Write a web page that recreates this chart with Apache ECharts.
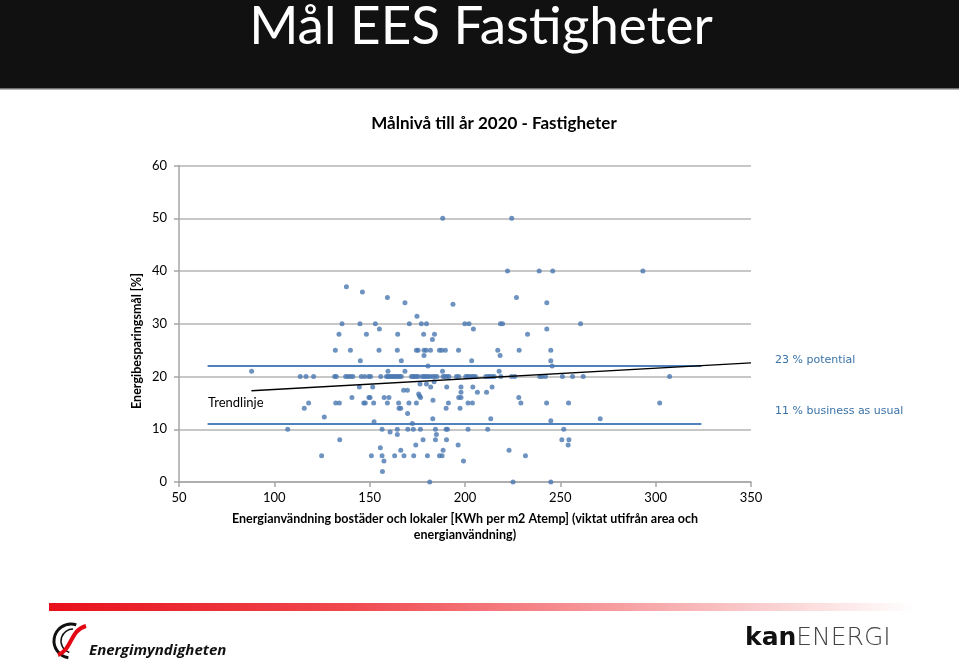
<!DOCTYPE html>
<html>
<head>
<meta charset="utf-8">
<script src="https://cdn.jsdelivr.net/npm/echarts@6/dist/echarts.min.js"></script>
<style>
html, body { margin: 0; padding: 0; background: #fff; }
#main { width: 959px; height: 663px; }
</style>
</head>
<body>
<div id="main"></div>
<script>
// energy use (kWh per m2 Atemp) and savings goal (%) per building
var energy = [
    188.3, 224.5,
    222.3, 238.9, 246, 293.3,
    137.8, 146.2, 159.3, 227, 168.5, 242.9, 193.7, 174.8,
    135.5, 144.9, 153, 170.8, 177.1, 179.8, 199.9, 202.1, 218.6, 219.7, 260.6,
    155.1, 204.4, 242.9,
    133.9, 148.3, 164.7, 178.3, 184, 232.8, 182.9,
    132, 139.9, 154.9, 164.5, 174.5, 175.4, 178.5, 179.6, 181.9, 186.6, 187.8, 189.7, 196.6, 217.2, 228.4, 245,
    178.5, 218.4,
    145.1, 166.6, 203.5, 245,
    180.6, 245.7,
    88.1, 159.6, 168.5, 188.2, 217.9,
    113.6, 116.6, 120.6, 131.6, 132.5, 137.4, 138.6, 139.9, 141.2, 145.6, 147.4, 149.5, 150.5, 155.8,
    158.8, 159.6, 160.5, 161.4, 162.2, 163.1, 164, 164.9, 165.7, 166.6, 171.9, 172.7, 173.6, 174.5,
    175.4, 177.5, 178.5, 179.4, 180.3, 181.5, 182.9, 184.1, 185.3, 188.5, 189.5, 190.6, 191.6, 195.5,
    196.7, 200.4, 201.3, 202.1, 203.4, 204.4, 205.5, 210.9, 212.1, 213, 214.2, 215.3, 218.8, 224.4,
    226.1, 239.2, 240.4, 242.2, 251.1, 256.4, 262, 307.3,
    183.8, 176.4, 179.8,
    144.6, 151.6, 182, 190.4, 197.9, 204.1, 214.2,
    167.8, 169.8, 197.9, 206.5, 211.3, 175.7, 176.2,
    140.7, 149.6, 150.2, 157.6, 160.1, 176.7, 196.7, 197.9, 228.2, 183.2,
    118, 132.2, 134.1, 146.9, 147.7, 152.1, 159.3, 165.2, 170.6, 174.5, 191.3, 201.6, 203.9, 229.3, 242.8, 254.3, 302.1,
    115.7, 165.4, 166.3, 190.1, 197.4, 169.9, 126.2,
    183.1, 213.5, 270.9, 245, 152.3, 172.4,
    107, 156.5, 164.5, 170, 172.9, 176.6, 184.5, 190.1, 190.8, 201.6, 211.9, 251.8,
    160.7, 164.5, 185,
    134.3, 178, 184.5, 190.3, 250.8, 254.5,
    174.2, 196.4, 254.1, 155.6,
    166.3, 188.5, 223.1,
    124.8, 150.9, 156.5, 163.1, 168, 173.1, 180.3, 186.6, 188, 231.7,
    157.5, 199.2, 156.7,
    181.5, 225.2, 245
];
var saving = [
    50, 50,
    40, 40, 40, 40,
    37, 36, 35, 35, 34, 34, 33.7, 31.4,
    30, 30, 30, 30, 30, 30, 30, 30, 30, 30, 30,
    29, 29, 29,
    28, 28, 28, 28, 28, 28, 27,
    25, 25, 25, 25, 25, 25, 25, 25, 25, 25, 25, 25, 25, 25, 25, 25,
    24, 24,
    23, 23, 23, 23,
    22, 22,
    21, 21, 21, 21, 21,
    20, 20, 20, 20, 20, 20, 20, 20, 20, 20, 20, 20, 20, 20,
    20, 20, 20, 20, 20, 20, 20, 20, 20, 20, 20, 20, 20, 20,
    20, 20, 20, 20, 20, 20, 20, 20, 20, 20, 20, 20, 20, 20,
    20, 20, 20, 20, 20, 20, 20, 20, 20, 20, 20, 20, 20, 20,
    20, 20, 20, 20, 20, 20, 20, 20,
    19, 18.6, 18.6,
    18, 18, 18, 18, 18, 18, 18,
    17.4, 17.4, 17, 17, 17, 16.7, 16.3,
    16, 16, 16, 16, 16, 16, 16, 16, 16, 15.5,
    15, 15, 15, 15, 15, 15, 15, 15, 15, 15, 15, 15, 15, 15, 15, 15, 15,
    14, 14, 14, 14, 14, 13, 12.3,
    12, 12, 12, 11.6, 11.4, 11.1,
    10, 10, 10, 10, 10, 10, 10, 10, 10, 10, 10, 10,
    9.5, 9, 9,
    8, 8, 8, 8, 8, 8,
    7, 7, 7, 6.5,
    6, 6, 6,
    5, 5, 5, 5, 5, 5, 5, 5, 5, 5,
    4, 4, 2,
    0, 0, 0
];

// goal lines and trend line
var potentialLine = [[65, 22], [324, 22]];
var usualLine = [[65, 11], [324, 11]];
var trendLine = [[88, 17.3], [350, 22.6]];

var xTicks = [50, 350, 50];   // min, max, step
var yTicks = [0, 60, 10];

var points = [];
for (var i = 0; i < energy.length; i++) {
    points.push([energy[i], saving[i]]);
}

var chart = echarts.init(document.getElementById('main'));
var calibri = 'Lato, "Open Sans", sans-serif';

var option = {
    backgroundColor: '#ffffff',
    animation: false,
    grid: {
        left: 179,
        right: 208,
        top: 165.5,
        bottom: 181
    },
    xAxis: {
        type: 'value',
        min: xTicks[0],
        max: xTicks[1],
        interval: xTicks[2],
        axisLine: { show: true, onZero: false, lineStyle: { color: '#a6a6a6', width: 1.5 } },
        axisTick: { show: true, length: 5, lineStyle: { color: '#a6a6a6', width: 1.5 } },
        axisLabel: { color: '#000', fontSize: 13, fontFamily: calibri, margin: 9 },
        splitLine: { show: false }
    },
    yAxis: {
        type: 'value',
        min: yTicks[0],
        max: yTicks[1],
        interval: yTicks[2],
        axisLine: { show: true, lineStyle: { color: '#a6a6a6', width: 1.5 } },
        axisTick: { show: true, length: 5, lineStyle: { color: '#a6a6a6', width: 1.5 } },
        axisLabel: { color: '#000', fontSize: 13, fontFamily: calibri, margin: 12 },
        splitLine: { show: true, lineStyle: { color: '#b4b4b4', width: 1.5 } }
    },
    series: [
        {
            type: 'line',
            data: potentialLine,
            symbol: 'none',
            lineStyle: { color: '#4f81bd', width: 2 },
            z: 2
        },
        {
            type: 'line',
            data: usualLine,
            symbol: 'none',
            lineStyle: { color: '#4f81bd', width: 2 },
            z: 2
        },
        {
            type: 'scatter',
            data: points,
            symbolSize: 5,
            itemStyle: { color: '#4a78b0' },
            z: 3
        },
        {
            type: 'line',
            data: trendLine,
            symbol: 'none',
            lineStyle: { color: '#000', width: 1.3 },
            z: 4
        }
    ],
    graphic: [
        { type: 'rect', left: 0, top: 0, shape: { width: 959, height: 89 }, style: { fill: '#111111' } },
        { type: 'rect', left: 0, top: 88, shape: { width: 959, height: 1.5 }, style: { fill: '#6e6e6e' } },
        {
            type: 'text', x: 481, y: 27,
            style: { text: 'Mål EES Fastigheter', fill: '#fff', font: '53px ' + calibri, textAlign: 'center', textVerticalAlign: 'middle' }
        },
        {
            type: 'text', x: 494, y: 124,
            style: { text: 'Målnivå till år 2020 - Fastigheter', fill: '#000', font: 'bold 17px ' + calibri, textAlign: 'center', textVerticalAlign: 'middle' }
        },
        {
            type: 'text', x: 137, y: 341, rotation: Math.PI / 2,
            style: { text: 'Energibesparingsmål [%]', fill: '#000', font: 'bold 12.5px ' + calibri, textAlign: 'center', textVerticalAlign: 'middle' }
        },
        {
            type: 'text', x: 465, y: 527,
            style: {
                text: 'Energianvändning bostäder och lokaler [KWh per m2 Atemp] (viktat utifrån area och\nenergianvändning)',
                fill: '#000', font: 'bold 12.5px ' + calibri, textAlign: 'center', textVerticalAlign: 'middle', lineHeight: 16
            }
        },
        {
            type: 'text', x: 208, y: 403,
            style: { text: 'Trendlinje', fill: '#000', font: '13px ' + calibri, textVerticalAlign: 'middle' }
        },
        {
            type: 'text', x: 775, y: 360,
            style: { text: '23 % potential', fill: '#3a73a8', font: '11px "DejaVu Sans"', textVerticalAlign: 'middle' }
        },
        {
            type: 'text', x: 775, y: 411,
            style: { text: '11 % business as usual', fill: '#3a73a8', font: '11px "DejaVu Sans"', textVerticalAlign: 'middle' }
        },
        {
            type: 'rect', left: 49, top: 603, shape: { width: 866, height: 8 },
            style: {
                fill: new echarts.graphic.LinearGradient(0, 0, 1, 0, [
                    { offset: 0, color: '#e8101a' },
                    { offset: 0.35, color: '#f04a4f' },
                    { offset: 0.7, color: '#f7aaac' },
                    { offset: 1, color: '#ffffff' }
                ])
            }
        },
        {
            type: 'arc', x: 71, y: 641,
            shape: { cx: 0, cy: 0, r: 17, startAngle: Math.PI * 0.55, endAngle: Math.PI * 1.6 },
            style: { stroke: '#111', lineWidth: 3, fill: null }
        },
        {
            type: 'arc', x: 73, y: 641,
            shape: { cx: 0, cy: 0, r: 12, startAngle: Math.PI * 0.6, endAngle: Math.PI * 1.5 },
            style: { stroke: '#111', lineWidth: 1.5, fill: null }
        },
        {
            type: 'bezierCurve',
            shape: { x1: 58, y1: 655, x2: 86, y2: 626, cpx1: 72, cpy1: 650, cpx2: 70, cpy2: 630 },
            style: { stroke: '#e30613', lineWidth: 4, fill: null }
        },
        {
            type: 'text', x: 89, y: 651,
            style: { text: 'Energimyndigheten', fill: '#111', font: 'italic bold 15px "Liberation Sans Narrow", "Open Sans", sans-serif', textVerticalAlign: 'middle' }
        },
        {
            type: 'text', x: 745, y: 638,
            style: {
                text: '{a|kan}{b|ENERGI}',
                textVerticalAlign: 'middle',
                rich: {
                    a: { font: 'bold 25px "DejaVu Sans"', fill: '#111' },
                    b: { font: '200 25px "DejaVu Sans"', fill: '#444' }
                }
            }
        }
    ]
};
chart.setOption(option);
</script>
</body>
</html>
